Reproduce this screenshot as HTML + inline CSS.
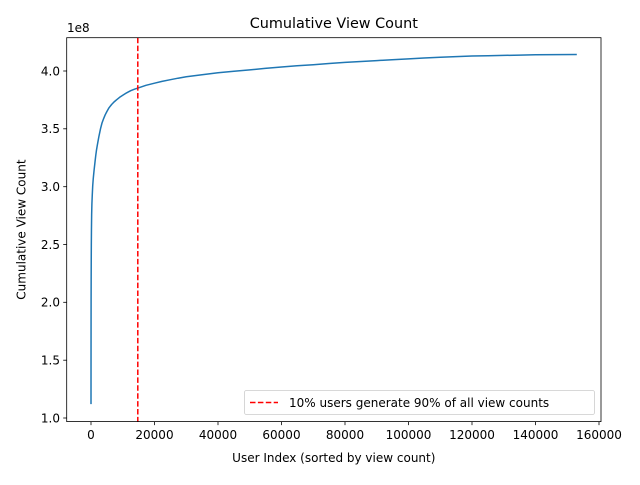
<!DOCTYPE html>
<html><head><meta charset="utf-8"><style>body{margin:0;background:#fff}</style></head><body>
<svg width="640" height="480" xmlns="http://www.w3.org/2000/svg" font-family="DejaVu Sans, sans-serif">
<rect width="640" height="480" fill="#fff"/>
<polyline fill="none" stroke="#1f77b4" stroke-width="1.5" stroke-linejoin="round" points="91,404.1 91.03,360 91.06,330 91.1,300 91.16,280 91.24,260 91.32,245 91.45,230 91.64,215 91.9,204 92.27,195 92.7,186 93.22,179 93.7,174 94.18,169.3 95,162 95.76,155.4 96.5,150 97.35,145 98.8,137 100.5,128.8 102,123 103.7,118.4 105.2,114.8 106.9,111.5 109,107.8 111.6,104.5 114,102 116.4,99.9 119.5,97.4 122.75,95.3 126.5,92.9 130.7,90.7 134.5,89.2 138.6,87.8 146,85.3 154.5,83.2 162,81.4 170.4,79.7 178,78.2 186.25,76.8 202,74.7 218,72.8 234,71.3 249.75,69.9 265,68.4 281.5,67 297,65.8 313.25,64.7 329,63.5 345,62.4 361,61.5 376.75,60.6 392,59.7 408.5,58.9 424,58 440.25,57.2 456,56.6 472,56 488,55.7 503.75,55.4 520,55.1 535.5,54.8 556,54.6 576.8,54.5"/>
<line x1="137.8" y1="37.7" x2="137.8" y2="421.6" stroke="red" stroke-width="1.5" stroke-dasharray="5.5,2.4"/>
<rect x="66.7" y="37.7" width="534.3" height="383.9" fill="none" stroke="#000" stroke-width="0.8"/>
<g stroke="#000" stroke-width="0.8">
<line x1="91" y1="421.6" x2="91" y2="425.1"/><line x1="154.5" y1="421.6" x2="154.5" y2="425.1"/><line x1="218" y1="421.6" x2="218" y2="425.1"/><line x1="281.5" y1="421.6" x2="281.5" y2="425.1"/><line x1="345" y1="421.6" x2="345" y2="425.1"/><line x1="408.5" y1="421.6" x2="408.5" y2="425.1"/><line x1="472" y1="421.6" x2="472" y2="425.1"/><line x1="535.5" y1="421.6" x2="535.5" y2="425.1"/><line x1="599" y1="421.6" x2="599" y2="425.1"/>
<line x1="63.2" y1="418" x2="66.7" y2="418"/><line x1="63.2" y1="360.2" x2="66.7" y2="360.2"/><line x1="63.2" y1="302.3" x2="66.7" y2="302.3"/><line x1="63.2" y1="244.5" x2="66.7" y2="244.5"/><line x1="63.2" y1="186.7" x2="66.7" y2="186.7"/><line x1="63.2" y1="128.8" x2="66.7" y2="128.8"/><line x1="63.2" y1="71" x2="66.7" y2="71"/>
</g>
<g font-size="12" text-anchor="middle" fill="#000">
<text x="91" y="439">0</text><text x="154.5" y="439">20000</text><text x="218" y="439">40000</text><text x="281.5" y="439">60000</text><text x="345" y="439">80000</text><text x="408.5" y="439">100000</text><text x="472" y="439">120000</text><text x="535.5" y="439">140000</text><text x="599" y="439">160000</text>
</g>
<g font-size="12" text-anchor="end" fill="#000">
<text x="60" y="422.3">1.0</text><text x="60" y="364.5">1.5</text><text x="60" y="306.6">2.0</text><text x="60" y="248.8">2.5</text><text x="60" y="191">3.0</text><text x="60" y="133.1">3.5</text><text x="60" y="75.3">4.0</text>
</g>
<text x="67" y="32" font-size="12">1e8</text>
<text x="333.8" y="28" font-size="14.4" text-anchor="middle">Cumulative View Count</text>
<text x="333.8" y="462" font-size="12" text-anchor="middle">User Index (sorted by view count)</text>
<text transform="translate(25.5,229.6) rotate(-90)" font-size="12" text-anchor="middle">Cumulative View Count</text>
<rect x="244.5" y="390.5" width="350" height="24" rx="2" fill="#fff" fill-opacity="0.8" stroke="#ccc" stroke-width="0.8"/>
<line x1="250" y1="402.5" x2="278" y2="402.5" stroke="red" stroke-width="1.5" stroke-dasharray="5.5,2.4"/>
<text x="289" y="407" font-size="12">10% users generate 90% of all view counts</text>
</svg>
</body></html>
